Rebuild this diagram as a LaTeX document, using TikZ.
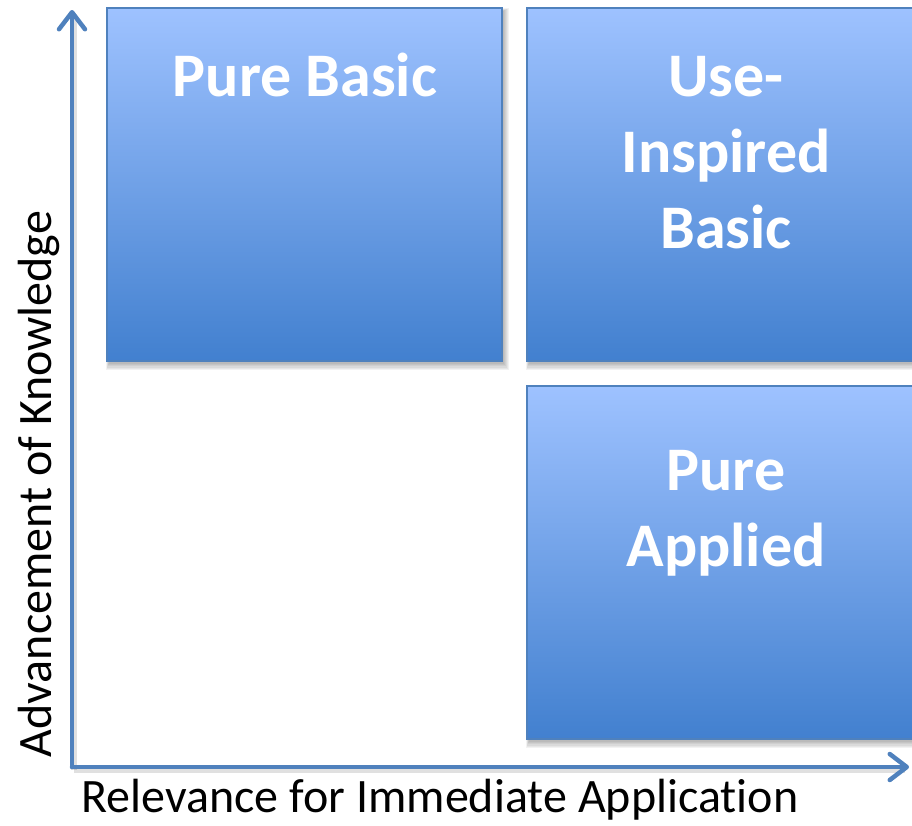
\documentclass[tikz,border=0pt]{standalone}
\usepackage{fontspec}
\setmainfont{Carlito}[Ligatures={NoCommon}]
\usetikzlibrary{arrows.meta}
\definecolor{boxtop}{RGB}{158,194,255}
\definecolor{boxbot}{RGB}{66,128,207}
\definecolor{boxline}{RGB}{79,129,189}
\definecolor{axis}{RGB}{79,129,189}
\tikzset{
  quad/.style={draw=boxline, line width=1.2pt, top color=boxtop, bottom color=boxbot, rectangle, inner sep=0pt, minimum width=395pt, minimum height=353pt},
  quadtext/.style={text=white, font=\fontsize{62}{76}\selectfont\bfseries, align=center, inner sep=0pt},
  axislabel/.style={text=black, font=\fontsize{48}{58}\selectfont, inner sep=0pt},
  axisline/.style={draw=axis, line width=4.5pt, line cap=round, -{Straight Barb[round, length=17pt, width=26pt, line width=4.5pt]}},
}
\newcommand{\softshadow}[4]{%
  \foreach \k in {0,...,5}{
    \fill[black, fill opacity=0.05]
      ({#1+2-0.6*\k},{#2+3-0.6*\k}) rectangle ({#3+2+0.9*\k},{#4+3+1.2*\k});
  }%
}
\begin{document}
\begin{tikzpicture}[x=1pt, y=-1pt]
\useasboundingbox (0,0) rectangle (912,825);
% shadows
\softshadow{107}{8}{502}{361}
\softshadow{527}{8}{922}{361}
\softshadow{527}{386}{922}{739}
% boxes
\node[quad] (pb) at (304.5,184.5) {};
\node[quad] (uib) at (724.5,184.5) {};
\node[quad] (pa) at (724.5,562.5) {};
% texts (base = baseline of last line)
\node[quadtext, anchor=base] (t1) at (305,96) {Pure Basic};
\node[quadtext, anchor=base] (t2) at (726,248) {Use-\\Inspired\\Basic};
\node[quadtext, anchor=base] (t3) at (726,566) {Pure\\Applied};
% axes
\coordinate (o) at (72,767);
\coordinate (ytop) at (72,10);
\coordinate (xend) at (909,767);
\draw[black, opacity=0.12, line width=6pt] (74,770) -- (74,14);
\draw[black, opacity=0.12, line width=6pt] (74,770) -- (905,770);
\draw[axisline] (o) -- (ytop);
\draw[axisline] (o) -- (xend);
% labels
\node[axislabel, anchor=base] (xl) at (440,812) {Relevance for Immediate Application};
\node[axislabel, anchor=base, rotate=90] (yl) at (51,484) {Advancement of Knowledge};
\end{tikzpicture}
\end{document}
